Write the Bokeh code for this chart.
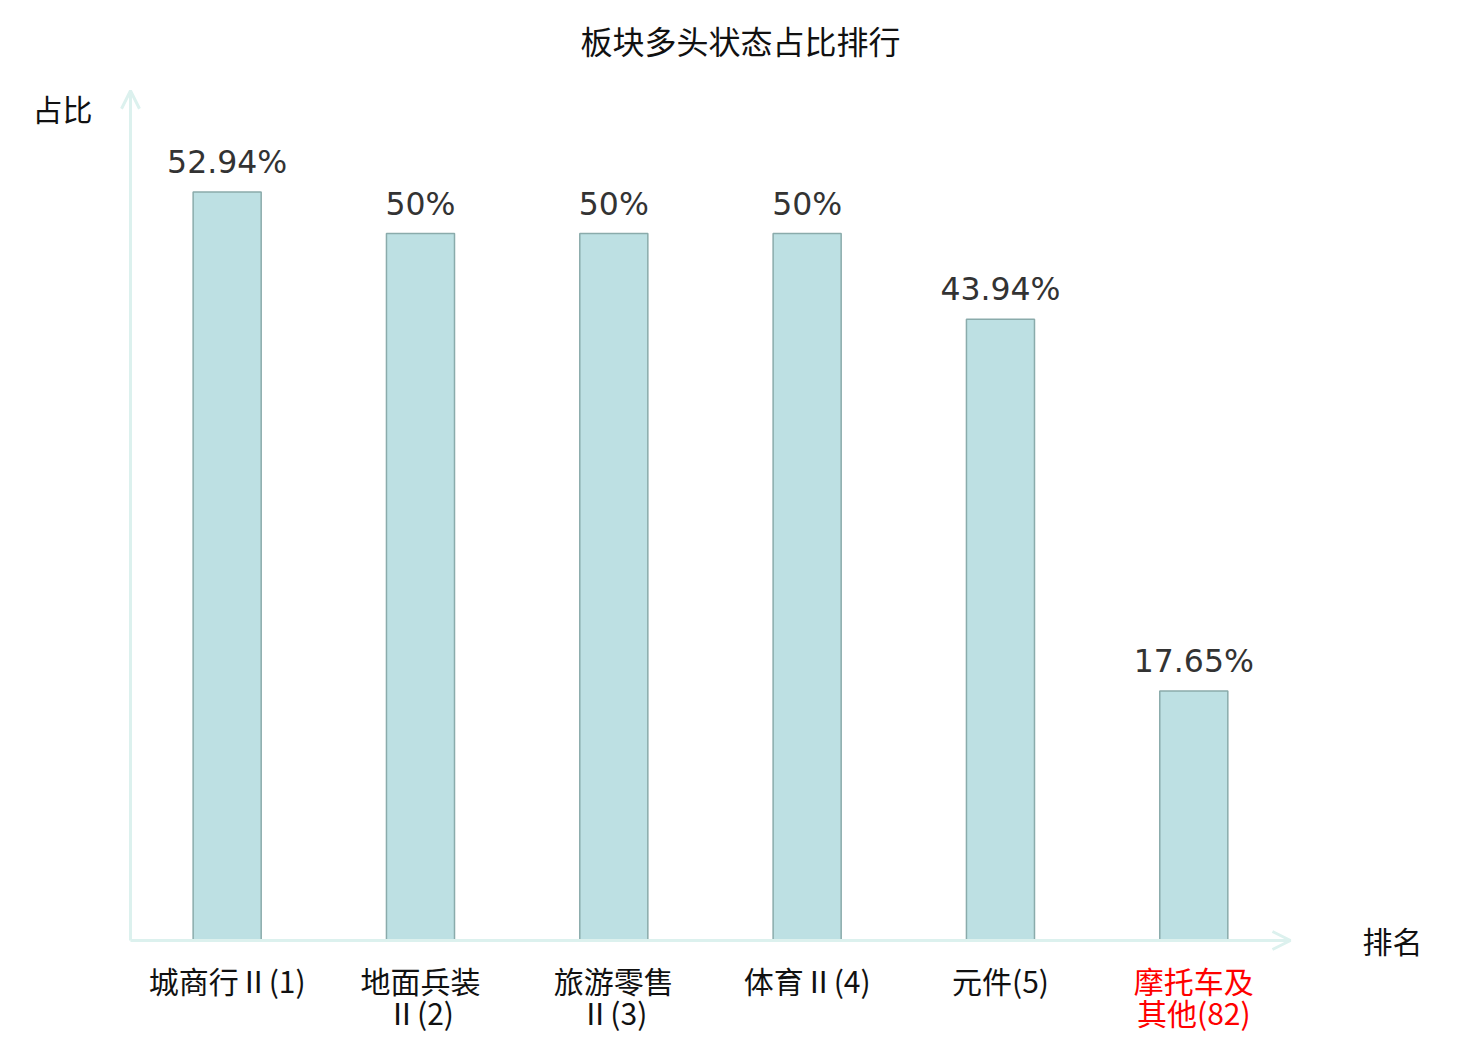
from bokeh.plotting import figure
from bokeh.models import ColumnDataSource, Arrow, OpenHead
from bokeh.core.properties import value
from bokeh.embed import file_html
from bokeh.resources import INLINE

categories = ["城商行Ⅱ(1)", "地面兵装\nⅡ(2)", "旅游零售\nⅡ(3)", "体育Ⅱ(4)", "元件(5)", "摩托车及\n其他(82)"]
values = [52.94, 50, 50, 50, 43.94, 17.65]
value_labels = ["52.94%", "50%", "50%", "50%", "43.94%", "17.65%"]
label_colors = ["#111111", "#111111", "#111111", "#111111", "#111111", "#ff0000"]
title_text = "板块多头状态占比排行"
y_title = "占比"
x_title = "排名"

idx = list(range(len(categories)))
line1 = [c.split("\n")[0] for c in categories]
line2 = [c.split("\n")[1] if "\n" in c else "" for c in categories]
src = ColumnDataSource(dict(x=idx, top=values, l1=line1, l2=line2, vl=value_labels, col=label_colors))

W, H = 1480, 1040
p = figure(width=W, height=H, output_backend="svg", toolbar_location=None,
           x_range=(-1.1724, 6.483), y_range=(-7.072, 66.48),
           x_axis_type=None, y_axis_type=None, min_border=0)
p.outline_line_color = None
p.xgrid.visible = False
p.ygrid.visible = False

axis_col = "#dcf1ee"
p.add_layout(Arrow(x_start=-0.5, y_start=0, x_end=-0.5, y_end=60.1, line_color=axis_col, line_width=3,
                   end=OpenHead(size=18, line_color=axis_col, line_width=3)))
p.add_layout(Arrow(x_start=-0.5, y_start=0, x_end=5.5, y_end=0, line_color=axis_col, line_width=3,
                   end=OpenHead(size=18, line_color=axis_col, line_width=3)))

p.vbar(x="x", top="top", bottom=0, width=0.352, source=src,
       fill_color="#bde0e3", line_color="#8aabab", line_width=1.5)

p.text(x="x", y="top", text="vl", source=src, text_align="center", text_baseline="bottom",
       y_offset=-12, text_font=value("DejaVu Sans"), text_font_size="31.5px", text_color="#333333")

p.text(x="x", y=0, text="l1", source=src, text_align="center", text_baseline="middle",
       y_offset=39, text_font=value("Noto Sans CJK SC"), text_font_size="30px", text_color="col")
p.text(x="x", y=0, text="l2", source=src, text_align="center", text_baseline="middle",
       y_offset=71, text_font=value("Noto Sans CJK SC"), text_font_size="30px", text_color="col")

p.text(x=[2.5], y=[60.1], text=[title_text], text_align="center", text_baseline="middle",
       y_offset=-51, x_offset=30, text_font=value("Noto Sans CJK SC"), text_font_size="32px", text_color="#111111")
p.text(x=[-0.5], y=[60.1], text=[y_title], text_align="center", text_baseline="middle",
       x_offset=-68, y_offset=17, text_font=value("Noto Sans CJK SC"), text_font_size="30px", text_color="#111111")
p.text(x=[5.5], y=[0], text=[x_title], text_align="center", text_baseline="middle",
       x_offset=102, y_offset=-1, text_font=value("Noto Sans CJK SC"), text_font_size="30px", text_color="#111111")

open("out.html", "w").write(file_html(p, INLINE))
